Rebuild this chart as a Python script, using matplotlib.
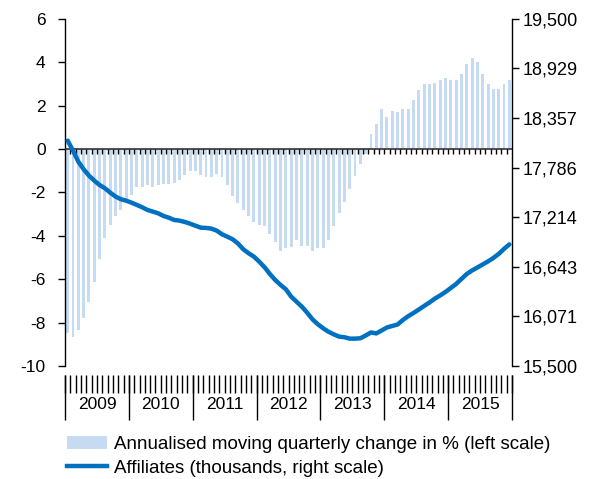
import numpy as np
import matplotlib
matplotlib.use('Agg')
from matplotlib import pyplot as plt
from matplotlib.ticker import FuncFormatter
from matplotlib.patches import Patch
from matplotlib.lines import Line2D


# 月度数据 2009-01 ~ 2015-12
years = ['2009', '2010', '2011', '2012', '2013', '2014', '2015']

# 季度移动年化变化率 (%), 左轴
change = [-8.47, -8.66, -8.35, -7.8, -7.07, -6.12, -5.05, -4.1, -3.5, -3.1, -2.8, -2.45,
          -2.1, -1.75, -1.75, -1.68, -1.75, -1.68, -1.6, -1.6, -1.55, -1.42, -1.2, -1.02,
          -1.02, -1.2, -1.28, -1.28, -1.16, -1.28, -1.68, -2.17, -2.48, -2.8, -3.07, -3.38,
          -3.5, -3.56, -3.9, -4.28, -4.68, -4.55, -4.5, -4.17, -4.45, -4.45, -4.7, -4.58,
          -4.58, -4.17, -3.56, -2.97, -2.43, -1.83, -1.22, -0.68, -0.25, 0.7, 1.17, 1.85,
          1.5, 1.76, 1.7, 1.84, 1.84, 2.24, 2.73, 3.0, 3.0, 3.05, 3.17, 3.26,
          3.19, 3.19, 3.47, 3.93, 4.2, 4.0, 3.47, 3.0, 2.78, 2.78, 3.0, 3.19]

# 参保人数 (千人), 右轴
affiliates = [18097, 17982, 17855, 17767, 17694, 17636, 17586, 17548, 17498, 17452, 17422, 17405,
              17382, 17356, 17329, 17298, 17279, 17260, 17229, 17209, 17183, 17175, 17160, 17140,
              17117, 17094, 17091, 17083, 17060, 17018, 16990, 16960, 16912, 16845, 16799, 16760,
              16702, 16638, 16560, 16491, 16434, 16384, 16299, 16241, 16184, 16114, 16038, 15981,
              15935, 15895, 15865, 15838, 15831, 15815, 15815, 15819, 15851, 15886, 15875, 15909,
              15944, 15961, 15978, 16030, 16074, 16111, 16151, 16192, 16232, 16276, 16313, 16353,
              16399, 16445, 16503, 16560, 16601, 16635, 16670, 16705, 16745, 16791, 16849, 16901]

label_bar = 'Annualised moving quarterly change in % (left scale)'
label_line = 'Affiliates (thousands, right scale)'

plt.rcParams['font.family'] = ['Liberation Sans', 'DejaVu Sans']
plt.rcParams['axes.unicode_minus'] = False
bar_color = '#C6DAF2'
line_color = '#0070C0'

n = len(change)
x = np.arange(n) + 0.5

fig = plt.figure(figsize=(6.02, 4.79), dpi=100)
ax = fig.add_axes([0.108, 0.236, 0.7425, 0.7245])
ax2 = ax.twinx()

ax.bar(x, change, width=0.55, color=bar_color, zorder=2)
ax2.plot(x, affiliates, color=line_color, lw=3.2, solid_capstyle='round')

# 左轴
ax.set_xlim(0, n)
ax.set_ylim(-10, 6)
ax.set_yticks(np.arange(-10, 7, 2))
ax.set_xticks([])
ax.tick_params(axis='y', direction='out', length=5, width=1, labelsize=12.5, pad=9)
for s in ['top', 'bottom', 'right']:
    ax.spines[s].set_visible(False)
ax.spines['left'].set_linewidth(1)

# 右轴
ax2.set_ylim(15500, 19500)
ax2.set_yticks(np.linspace(15500, 19500, 8))
ax2.yaxis.set_major_formatter(FuncFormatter(lambda v, p: '{:,.0f}'.format(v)))
ax2.tick_params(axis='y', direction='out', length=5, width=1, labelsize=13, pad=3)
for s in ['top', 'bottom', 'left']:
    ax2.spines[s].set_visible(False)
ax2.spines['right'].set_linewidth(1)

# 零线及月度刻度
ax.axhline(0, color='#333333', lw=1.2, zorder=3)
bounds = np.arange(1, n)
ax.vlines(bounds, -0.22, 0, color='black', lw=1, zorder=3)

# 底部月度刻度与年份分隔
trans = ax.get_xaxis_transform()
ax.vlines(np.arange(0, n + 1), -0.026, -0.078, color='black', lw=1,
          transform=trans, clip_on=False)
ax.vlines(np.arange(0, n + 1, 12), -0.026, -0.156, color='black', lw=1,
          transform=trans, clip_on=False)
for i, yr in enumerate(years):
    ax.text(12 * i + 6, -0.112, yr, transform=trans, ha='center', va='center', fontsize=12.5)

# 图例
handles = [Patch(facecolor=bar_color, edgecolor='none'),
           Line2D([0], [0], color=line_color, lw=3.2)]
fig.legend(handles, [label_bar, label_line], loc='upper left',
           bbox_to_anchor=(0.095, 0.11), frameon=False, fontsize=13.5,
           handlelength=2.15, handletextpad=0.37, labelspacing=0.37, borderpad=0.0)

plt.savefig('out.png', dpi=100)
